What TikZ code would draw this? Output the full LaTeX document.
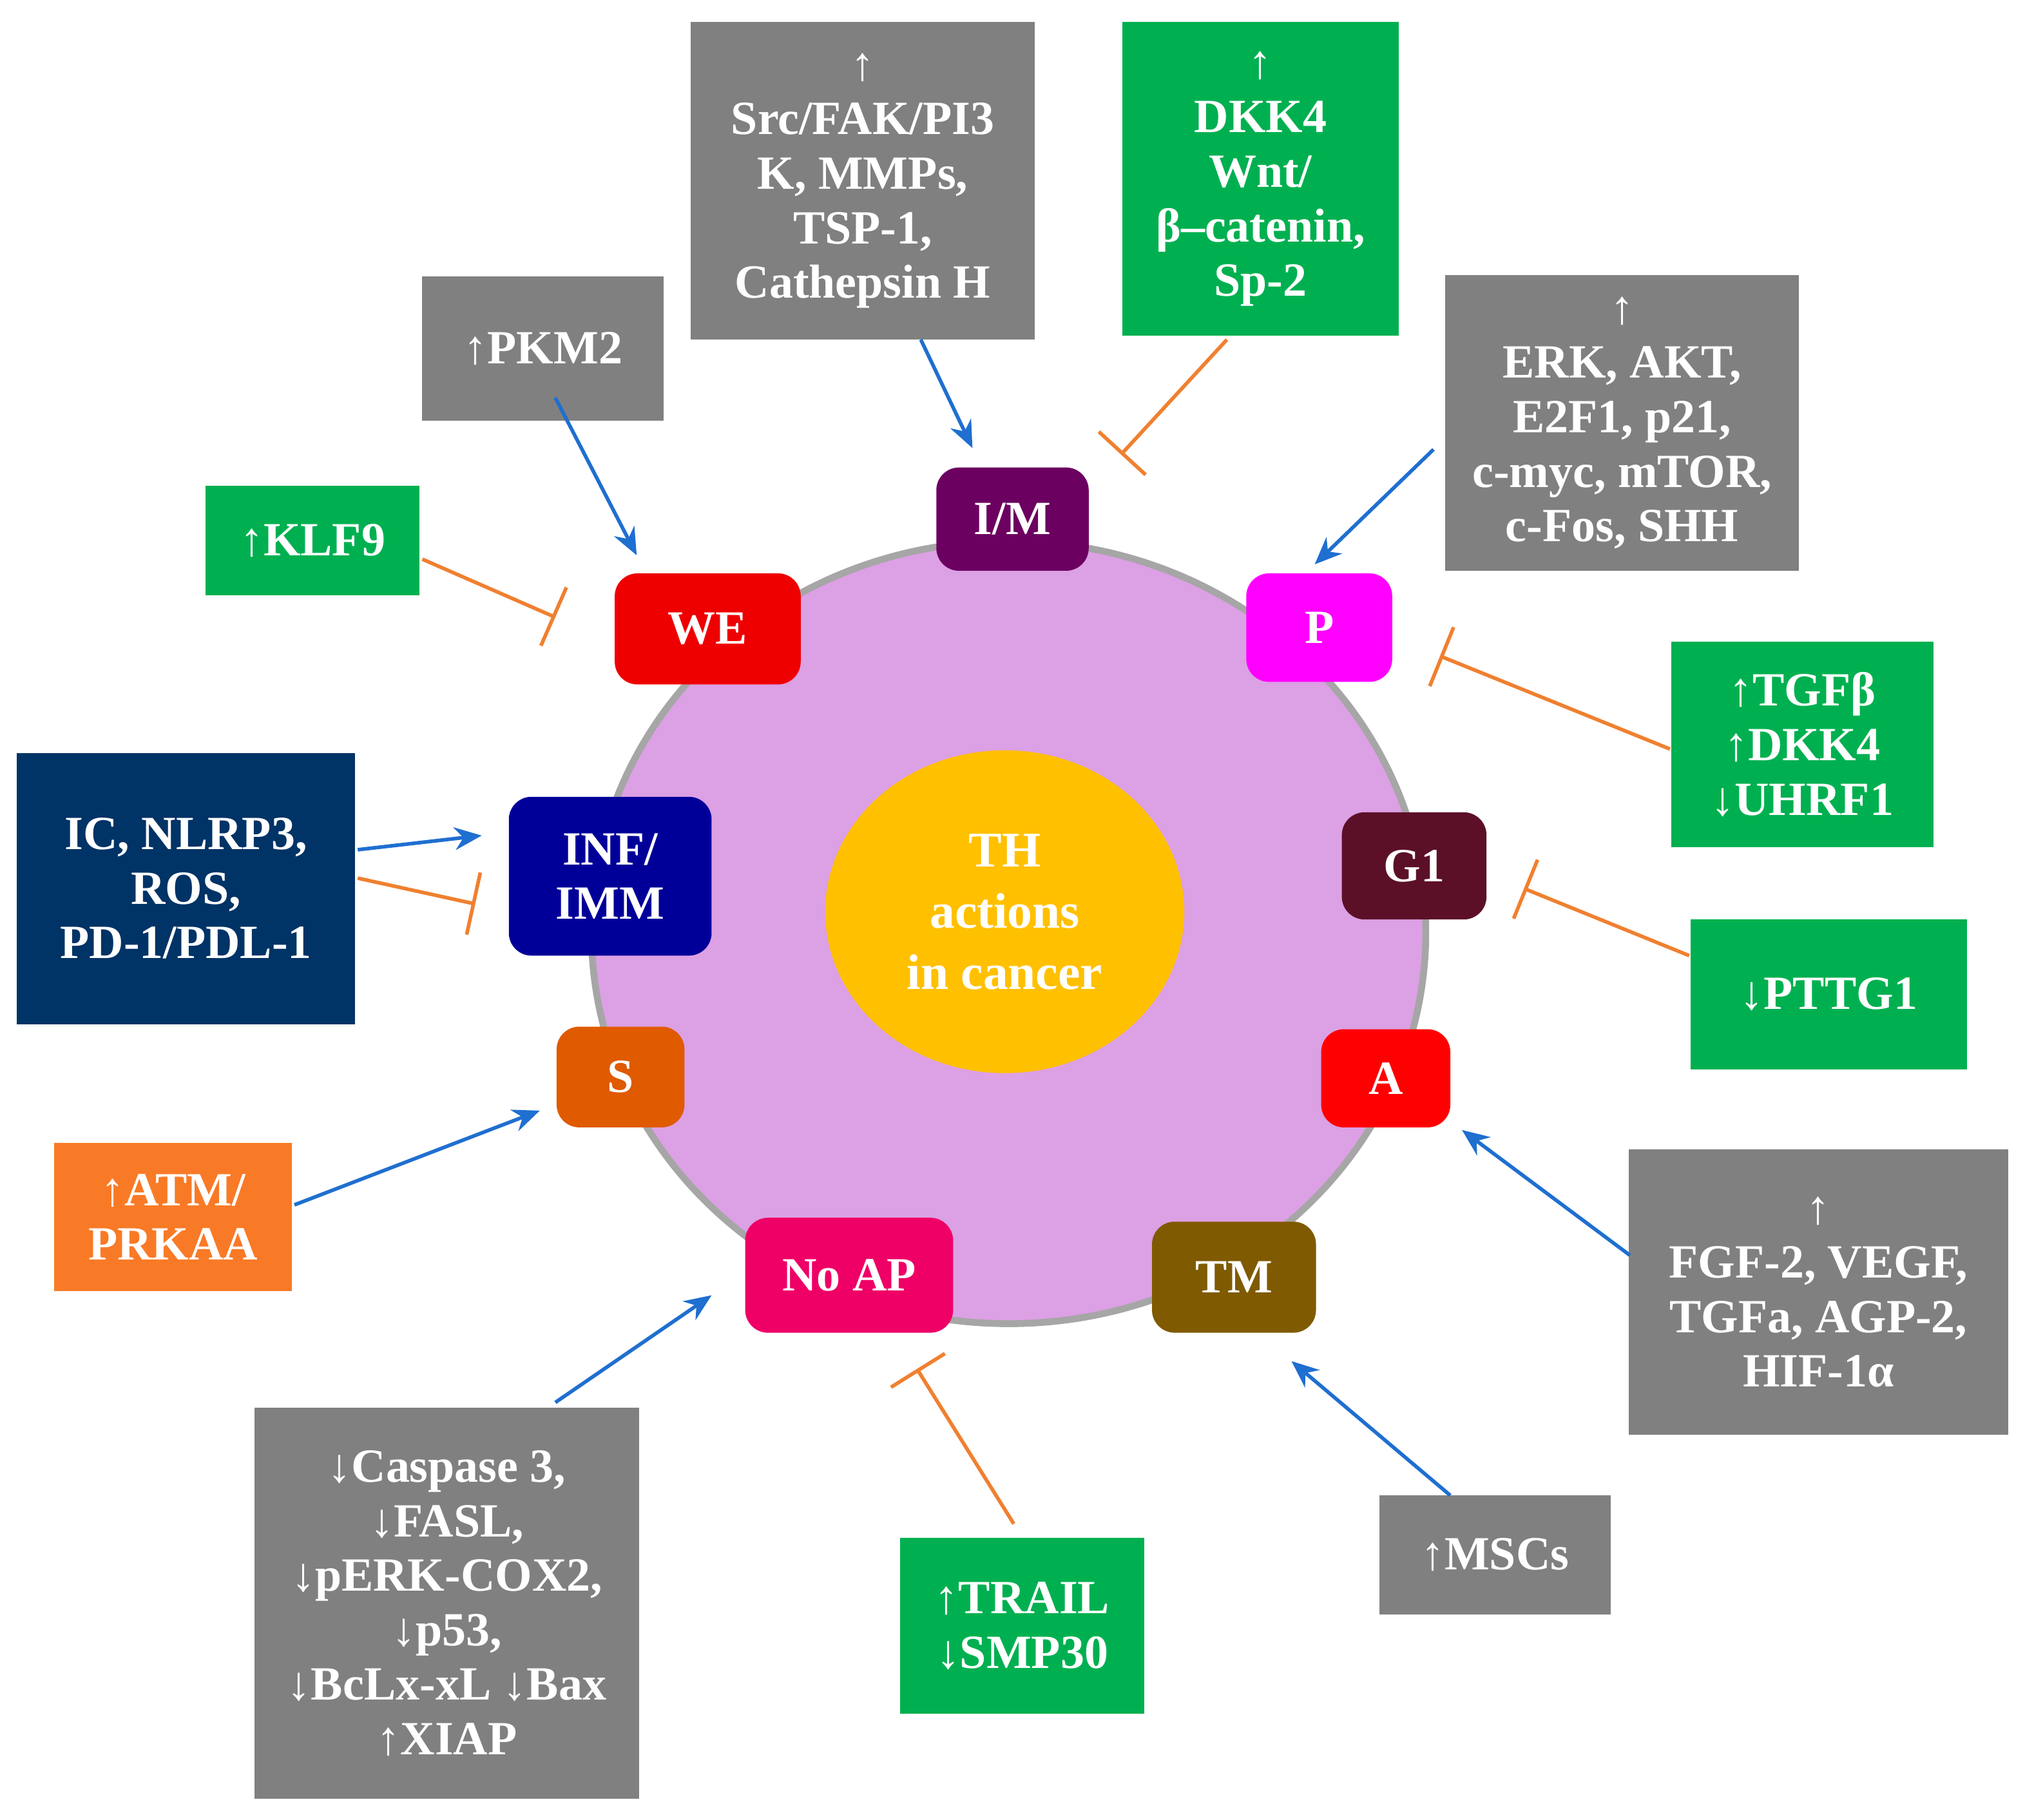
\documentclass[tikz,border=0pt]{standalone}
\usepackage{fontspec}
\setmainfont{Liberation Serif}
\usetikzlibrary{arrows.meta,shapes.geometric}
\definecolor{gbox}{HTML}{808080}
\definecolor{grn}{HTML}{00B050}
\definecolor{blu}{HTML}{1F6FD0}
\definecolor{org}{HTML}{F08030}
\definecolor{cell}{RGB}{220,160,228}
\begin{document}
\begin{tikzpicture}[
 box/.style={draw=none,text=white,font=\bfseries\fontsize{10.5}{12}\selectfont,align=center,inner sep=0pt},
 sm/.style={box,rounded corners=5pt},
 act/.style={draw=blu,line width=0.8pt,-{Stealth[length=6pt,width=5pt]}},
 inh/.style={draw=org,line width=0.8pt,-{Bar[width=14pt]}}]
\useasboundingbox (0,0) rectangle (15.68,-14.09);
% cell
\node[ellipse,fill=cell,draw=gray!70,line width=1.5pt,minimum width=6.46cm,minimum height=6.06cm] (cellnode) at (7.81,-7.22) {};
\node[box,ellipse,fill={rgb,255:red,255;green,192;blue,0},minimum width=2.78cm,minimum height=2.5cm,font=\bfseries\fontsize{11}{13.5}\selectfont] (th) at (7.78,-7.06) {TH\\actions\\in cancer};
% small nodes
\node[sm,fill={rgb,255:red,107;green,0;blue,96},minimum width=1.18cm,minimum height=0.8cm] (im) at (7.84,-4.02) {I/M};
\node[sm,fill={rgb,255:red,238;green,0;blue,0},minimum width=1.44cm,minimum height=0.86cm] (we) at (5.48,-4.87) {WE};
\node[sm,fill={rgb,255:red,255;green,0;blue,255},minimum width=1.13cm,minimum height=0.84cm] (p) at (10.215,-4.86) {P};
\node[sm,fill={rgb,255:red,92;green,16;blue,40},minimum width=1.12cm,minimum height=0.83cm] (g1) at (10.95,-6.705) {G1};
\node[sm,fill={rgb,255:red,0;green,0;blue,153},minimum width=1.57cm,minimum height=1.23cm] (inf) at (4.725,-6.785) {INF/\\IMM};
\node[sm,fill={rgb,255:red,224;green,90;blue,0},minimum width=0.99cm,minimum height=0.78cm] (s) at (4.805,-8.34) {S};
\node[sm,fill={rgb,255:red,255;green,0;blue,0},minimum width=1.0cm,minimum height=0.76cm] (a) at (10.73,-8.35) {A};
\node[sm,fill={rgb,255:red,238;green,0;blue,102},minimum width=1.61cm,minimum height=0.89cm] (noap) at (6.575,-9.875) {No AP};
\node[sm,fill={rgb,255:red,127;green,90;blue,0},minimum width=1.27cm,minimum height=0.86cm] (tm) at (9.555,-9.89) {TM};
% big boxes
\node[box,fill=gbox,minimum width=2.66cm,minimum height=2.46cm] (src) at (6.68,-1.40) {↑\\Src/FAK/PI3\\K, MMPs,\\TSP-1,\\Cathepsin H};
\node[box,fill=grn,minimum width=2.14cm,minimum height=2.43cm] (dkk) at (9.76,-1.385) {↑\\DKK4\\Wnt/\\β–catenin,\\Sp-2};
\node[box,fill=gbox,minimum width=1.87cm,minimum height=1.12cm] (pkm) at (4.205,-2.70) {↑PKM2};
\node[box,fill=gbox,minimum width=2.74cm,minimum height=2.29cm] (erk) at (12.56,-3.275) {↑\\ERK, AKT,\\E2F1, p21,\\c-myc, mTOR,\\c-Fos, SHH};
\node[box,fill=grn,minimum width=1.66cm,minimum height=0.85cm] (klf) at (2.42,-4.185) {↑KLF9};
\node[box,fill=grn,minimum width=2.03cm,minimum height=1.59cm] (tgf) at (13.955,-5.765) {↑TGFβ\\↑DKK4\\↓UHRF1};
\node[box,fill={rgb,255:red,0;green,51;blue,102},minimum width=2.62cm,minimum height=2.1cm] (ic) at (1.44,-6.88) {IC, NLRP3,\\ROS,\\PD-1/PDL-1};
\node[box,fill=grn,minimum width=2.14cm,minimum height=1.16cm] (pttg) at (14.16,-7.70) {↓PTTG1};
\node[box,fill={rgb,255:red,249;green,122;blue,38},minimum width=1.84cm,minimum height=1.15cm] (atm) at (1.34,-9.425) {↑ATM/\\PRKAA};
\node[box,fill=gbox,minimum width=2.94cm,minimum height=2.21cm] (fgf) at (14.08,-10.005) {↑\\FGF-2, VEGF,\\TGFa, AGP-2,\\HIF-1α};
\node[box,fill=gbox,minimum width=2.98cm,minimum height=3.03cm] (cas) at (3.46,-12.415) {↓Caspase 3,\\↓FASL,\\↓pERK-COX2,\\↓p53,\\↓BcLx-xL ↓Bax\\↑XIAP};
\node[box,fill=grn,minimum width=1.89cm,minimum height=1.36cm] (trail) at (7.915,-12.59) {↑TRAIL\\↓SMP30};
\node[box,fill=gbox,minimum width=1.79cm,minimum height=0.92cm] (msc) at (11.575,-12.04) {↑MSCs};
% end points
\coordinate (e1) at (7.53,-3.47);
\coordinate (e2) at (8.68,-3.52);
\coordinate (e3) at (4.93,-4.30);
\coordinate (e4) at (4.30,-4.78);
\coordinate (e5) at (10.18,-4.37);
\coordinate (e6) at (11.15,-5.08);
\coordinate (e7) at (3.73,-6.47);
\coordinate (e8) at (3.68,-7.00);
\coordinate (e9) at (11.80,-6.88);
\coordinate (e10) at (4.18,-8.60);
\coordinate (e11) at (11.32,-8.75);
\coordinate (e12) at (5.51,-10.03);
\coordinate (e13) at (7.10,-10.60);
\coordinate (e14) at (10.00,-10.54);
\coordinate (s1) at (7.13,-2.63);
\coordinate (s2) at (9.50,-2.63);
\coordinate (s3) at (4.30,-3.08);
\coordinate (s4) at (3.27,-4.33);
\coordinate (s5) at (11.10,-3.48);
\coordinate (s6) at (12.93,-5.80);
\coordinate (s7a) at (2.77,-6.58);
\coordinate (s7b) at (2.77,-6.80);
\coordinate (s9) at (13.08,-7.40);
\coordinate (s10) at (2.28,-9.33);
\coordinate (s11) at (12.62,-9.72);
\coordinate (s12) at (4.30,-10.86);
\coordinate (s13) at (7.85,-11.80);
\coordinate (s14) at (11.23,-11.58);
\draw[act] (s1) -- (e1);
\draw[inh] (s2) -- (e2);
\draw[act] (s3) -- (e3);
\draw[inh] (s4) -- (e4);
\draw[act] (s5) -- (e5);
\draw[inh] (s6) -- (e6);
\draw[act] (s7a) -- (e7);
\draw[inh] (s7b) -- (e8);
\draw[inh] (s9) -- (e9);
\draw[act] (s10) -- (e10);
\draw[act] (s11) -- (e11);
\draw[act] (s12) -- (e12);
\draw[inh] (s13) -- (e13);
\draw[act] (s14) -- (e14);
\end{tikzpicture}
\end{document}
